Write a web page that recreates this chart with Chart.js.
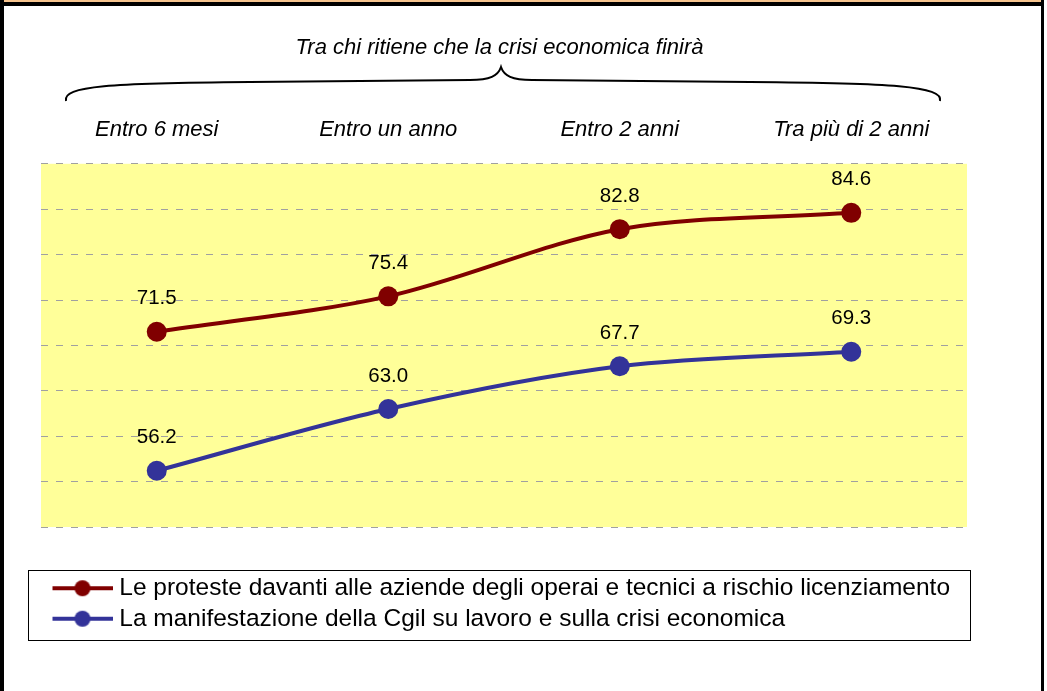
<!DOCTYPE html>
<html>
<head>
<meta charset="utf-8">
<script src="https://cdn.jsdelivr.net/npm/chart.js@4"></script>
<style>
  body { margin: 0; background: #fff; }
  #wrap { position: absolute; left: 0; top: 0; width: 1047px; height: 691px; }
  .frame { position: absolute; background: #000; }
</style>
</head>
<body>
<div id="wrap"><canvas id="chart"></canvas></div>
<div class="frame" style="left:4px;top:0;width:1037px;height:2px;background:#f7c48e"></div>
<div class="frame" style="left:0;top:2px;width:1044px;height:4px"></div>
<div class="frame" style="left:0;top:0;width:4px;height:691px"></div>
<div class="frame" style="left:1041px;top:0;width:3px;height:691px"></div>
<script>
const title = "Tra chi ritiene che la crisi economica finirà";
const categories = ["Entro 6 mesi", "Entro un anno", "Entro 2 anni", "Tra più di 2 anni"];
const protesteLabel = "Le proteste davanti alle aziende degli operai e tecnici a rischio licenziamento";
const cgilLabel = "La manifestazione della Cgil su lavoro e sulla crisi economica";
const protesteValues = [71.5, 75.4, 82.8, 84.6];
const cgilValues = [56.2, 63.0, 67.7, 69.3];
const yMin = 50;
const yMax = 90;
const yStep = 5;

const FONT = "'Liberation Sans', Arial, sans-serif";
const RED = "#800000";
const BLUE = "#333399";

// little line + dot used as legend marker
function makeMarker(color) {
  const c = document.createElement("canvas");
  c.width = 84;
  c.height = 18;
  const g = c.getContext("2d");
  g.strokeStyle = color;
  g.lineWidth = 4;
  g.beginPath();
  g.moveTo(24, 9);
  g.lineTo(84, 9);
  g.stroke();
  g.fillStyle = color;
  g.beginPath();
  g.arc(54, 9, 8, 0, Math.PI * 2);
  g.fill();
  return c;
}
const markers = [makeMarker(RED), makeMarker(BLUE)];

const plotBg = {
  id: "plotBg",
  beforeDraw(chart) {
    const { ctx, chartArea: a } = chart;
    ctx.save();
    ctx.fillStyle = "#ffff99";
    ctx.fillRect(a.left, a.top, a.right - a.left, a.bottom - a.top);
    ctx.restore();
  },
};

const brace = {
  id: "brace",
  afterDraw(chart) {
    const ctx = chart.ctx;
    ctx.save();
    ctx.strokeStyle = "#000";
    ctx.lineWidth = 2;
    ctx.beginPath();
    ctx.moveTo(66, 101);
    ctx.bezierCurveTo(62, 86, 110, 83, 250, 82);
    ctx.lineTo(470, 80);
    ctx.bezierCurveTo(490, 80, 498, 76, 501, 67);
    ctx.bezierCurveTo(504, 76, 512, 80, 532, 80);
    ctx.lineTo(750, 82);
    ctx.bezierCurveTo(890, 83, 944, 86, 940, 101);
    ctx.stroke();

    // legend frame
    const l = chart.legend;
    ctx.lineWidth = 1;
    ctx.strokeRect(l.left + 0.5, l.top + 0.5, l.width - 1, l.height - 1);
    ctx.restore();
  },
};

const valueLabels = {
  id: "valueLabels",
  afterDatasetsDraw(chart) {
    const ctx = chart.ctx;
    ctx.save();
    ctx.font = "20.5px " + FONT;
    ctx.fillStyle = "#000";
    ctx.textAlign = "center";
    ctx.textBaseline = "middle";
    chart.data.datasets.forEach((ds, i) => {
      chart.getDatasetMeta(i).data.forEach((pt, j) => {
        ctx.fillText(ds.data[j].toFixed(1), pt.x, pt.y - 33);
      });
    });
    ctx.restore();
  },
};

new Chart(document.getElementById("chart"), {
  type: "line",
  data: {
    labels: categories,
    datasets: [
      {
        label: protesteLabel,
        data: protesteValues,
        borderColor: RED,
        backgroundColor: RED,
        borderWidth: 4,
        pointRadius: 10,
        pointBorderWidth: 0,
        pointBackgroundColor: RED,
        tension: 0.32,
      },
      {
        label: cgilLabel,
        data: cgilValues,
        borderColor: BLUE,
        backgroundColor: BLUE,
        borderWidth: 4,
        pointRadius: 10,
        pointBorderWidth: 0,
        pointBackgroundColor: BLUE,
        tension: 0.32,
      },
    ],
  },
  options: {
    responsive: true,
    maintainAspectRatio: false,
    animation: false,
    layout: { padding: { left: 28, right: 76, top: 0, bottom: 50 } },
    scales: {
      x: {
        type: "category",
        position: "top",
        offset: true,
        grid: { display: false },
        border: { display: false },
        ticks: {
          color: "#000",
          font: { family: FONT, size: 22, style: "italic" },
          padding: 13,
          maxRotation: 0,
        },
      },
      xBottom: {
        type: "category",
        position: "bottom",
        labels: categories,
        grid: { display: false },
        border: { display: false },
        ticks: { display: false },
        afterFit(s) { s.height = 43; },
      },
      y: {
        min: yMin,
        max: yMax,
        ticks: { display: false, stepSize: yStep },
        grid: { color: "#a0a0a0", lineWidth: 1, drawTicks: false },
        border: { display: false, dash: [7, 8] },
        afterFit(s) { s.width = 13; },
      },
      yRight: {
        position: "right",
        min: yMin,
        max: yMax,
        ticks: { display: false },
        grid: { display: false },
        border: { display: false },
        afterFit(s) { s.width = 4; },
      },
    },
    plugins: {
      title: {
        display: true,
        text: title,
        color: "#000",
        font: { family: FONT, size: 22, style: "italic", weight: "normal" },
        padding: { top: 35, bottom: 42 },
      },
      legend: {
        position: "bottom",
        align: "start",
        labels: {
          color: "#000",
          font: { family: FONT, size: 24.5 },
          padding: 6,
          usePointStyle: true,
          pointStyleWidth: 73,
          generateLabels(chart) {
            const items = Chart.defaults.plugins.legend.labels.generateLabels(chart);
            items.forEach((it, i) => { it.pointStyle = markers[i]; });
            return items;
          },
        },
      },
      tooltip: { enabled: false },
    },
  },
  plugins: [plotBg, valueLabels, brace],
});
</script>
</body>
</html>
